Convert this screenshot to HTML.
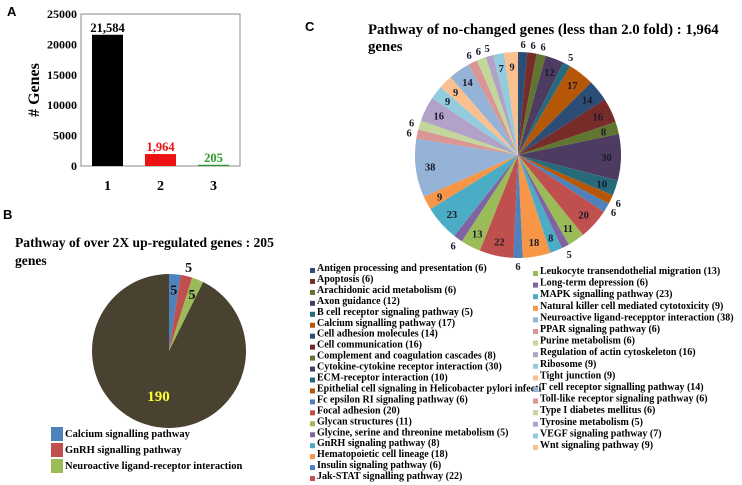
<!DOCTYPE html>
<html><head><meta charset="utf-8"><style>
html,body{margin:0;padding:0;background:#fff;width:742px;height:485px;overflow:hidden}
svg{display:block;font-family:"Liberation Serif",serif;font-weight:bold}
.pl{font-family:"Liberation Sans",sans-serif;font-weight:bold}
</style></head><body>
<svg id="fig" width="742" height="485" viewBox="0 0 742 485">
<text class="pl" x="7" y="16" font-size="13">A</text>
<text class="pl" x="3" y="219" font-size="13">B</text>
<text class="pl" x="305" y="31" font-size="13">C</text>
<g id="barA"></g>
<g id="pieB"></g>
<g id="pieC"></g>
<text x="15" y="247" font-size="13.6">Pathway of  over 2X up-regulated genes : 205</text>
<text x="15" y="265" font-size="13.6">genes</text>
<text x="368" y="34" font-size="14.8">Pathway of no-changed genes (less than 2.0 fold) : 1,964</text>
<text x="368" y="51" font-size="14.8">genes</text>
</svg>
<script>
const NS="http://www.w3.org/2000/svg";
function mk(p,t,a){const e=document.createElementNS(NS,t);for(const k in a)e.setAttribute(k,a[k]);p.appendChild(e);return e;}

// ---- Panel A data
const barCats=["1","2","3"];
const barVals=[21584,1964,205];
const barLabels=["21,584","1,964","205"];
const barColors=["#000000","#ee1111","#2a9a2a"];
const yTicks=[0,5000,10000,15000,20000,25000];

const A=document.getElementById('barA');
const ax={x0:81,x1:240,y0:166,y1:14,max:25000};
const ys=v=>ax.y0-(v/ax.max)*(ax.y0-ax.y1);
const bw=(ax.x1-ax.x0)/3;
let fr=mk(A,'rect',{x:ax.x0,y:ax.y1,width:ax.x1-ax.x0,height:ax.y0-ax.y1,fill:'none',stroke:'#888','stroke-width':1});


yTicks.forEach(v=>{
  const t=mk(A,'text',{x:ax.x0-4,y:ys(v)+4,'text-anchor':'end','font-size':12});
  t.textContent=v;
  
  
});
barCats.forEach((c,i)=>{
  const cx=ax.x0+bw*(i+0.5);
  const r=mk(A,'rect',{x:cx-15.5,y:ys(barVals[i]),width:31,height:ax.y0-ys(barVals[i]),fill:barColors[i]});
  
  
  const l=mk(A,'text',{x:cx,y:ys(barVals[i])-3,'text-anchor':'middle','font-size':12.5,fill:barColors[i]});
  l.textContent=barLabels[i];
  
  
  const x=mk(A,'text',{x:cx,y:190,'text-anchor':'middle','font-size':14});
  x.textContent=c;
  
  
});
const yt=mk(A,'text',{x:0,y:0,transform:'translate(39,90) rotate(-90)','text-anchor':'middle','font-size':16});
yt.textContent='# Genes';



// ---- Panel B data
const pieBNames=["Calcium signalling pathway","GnRH signalling pathway","Neuroactive ligand-receptor interaction",""];
const pieBVals=[5,5,5,190];
const pieBColors=["#4f81bd","#c0504d","#9bbb59","#4a4230"];

function arc(g,cx,cy,r,a0,a1,fill){
  const p=(a)=>[cx+r*Math.sin(a),cy-r*Math.cos(a)];
  const [x0,y0]=p(a0),[x1,y1]=p(a1);
  return mk(g,'path',{d:`M${cx},${cy}L${x0},${y0}A${r},${r} 0 ${a1-a0>Math.PI?1:0} 1 ${x1},${y1}Z`,fill:fill});
}
const B=document.getElementById('pieB');
(function(){
  const cx=169,cy=351,r=77,tot=pieBVals.reduce((a,b)=>a+b,0);let a=0;
  pieBVals.forEach((v,i)=>{
    const a1=a+v/tot*2*Math.PI;
    const s=arc(B,cx,cy,r,a,a1,pieBColors[i]);
    
    
    const m=(a+a1)/2;
    let rr=i==3?0.6:(i==1?1.12:0.8);
    const t=mk(B,'text',{x:cx+rr*r*Math.sin(m),y:cy-rr*r*Math.cos(m)+5,'text-anchor':'middle','font-size':i==3?15:14,fill:i==3?'#ffff33':'#111'});
    t.textContent=v;
    
    
    a=a1;
  });
  for(let i=0;i<3;i++){
    const y=437+i*16;
    const sw=mk(B,'rect',{x:51,y:y-10,width:12,height:14,fill:pieBColors[i]});
    
    
    const t=mk(B,'text',{x:65,y:y,'font-size':10.5});
    t.textContent=pieBNames[i];
    
    
  }
})();

// ---- Panel C data
const pieCNames=["Antigen processing and presentation (6)","Apoptosis (6)","Arachidonic acid metabolism (6)","Axon guidance (12)","B cell receptor signaling pathway (5)","Calcium signalling pathway (17)","Cell adhesion molecules (14)","Cell communication (16)","Complement and coagulation cascades (8)","Cytokine-cytokine receptor interaction (30)","ECM-receptor interaction (10)","Epithelial cell signaling in Helicobacter pylori infecti","Fc epsilon RI signaling pathway (6)","Focal adhesion (20)","Glycan structures (11)","Glycine, serine and threonine metabolism (5)","GnRH signaling pathway (8)","Hematopoietic cell lineage (18)","Insulin signaling pathway (6)","Jak-STAT signalling pathway (22)","Leukocyte transendothelial migration (13)","Long-term depression (6)","MAPK signalling pathway (23)","Natural killer cell mediated cytotoxicity (9)","Neuroactive ligand-recepptor interaction (38)","PPAR signaling pathway (6)","Purine metabolism (6)","Regulation of actin cytoskeleton (16)","Ribosome (9)","Tight junction (9)","T cell receptor signalling pathway (14)","Toll-like receptor signaling pathway (6)","Type I diabetes mellitus (6)","Tyrosine metabolism (5)","VEGF signaling pathway (7)","Wnt signaling pathway  (9)"];
const pieCVals=[6,6,6,12,5,17,14,16,8,30,10,6,6,20,11,5,8,18,6,22,13,6,23,9,38,6,6,16,9,9,14,6,6,5,7,9];
const shades=[["#2c4d75","#772c2a","#5f7530","#4d3b62","#276a7c","#b65708"],["#4f81bd","#c0504d","#9bbb59","#8064a2","#4bacc6","#f79646"],["#95b3d7","#d99694","#c3d69b","#b3a2c7","#93cddd","#fac090"]];
const C=document.getElementById('pieC');
(function(){
  const cx=518,cy=155,r=103,tot=pieCVals.reduce((a,b)=>a+b,0);let a=0;
  pieCVals.forEach((v,i)=>{
    const a1=a+v/tot*2*Math.PI;
    const fill=shades[Math.floor(i/12)][i%6];
    const s=arc(C,cx,cy,r,a,a1,fill);
    
    
    const m=(a+a1)/2, rr=v<=6?1.08:0.86;
    const t=mk(C,'text',{x:cx+rr*r*Math.sin(m),y:cy-rr*r*Math.cos(m)+4,'text-anchor':'middle','font-size':10.5,fill:'#1a1a2a'});
    t.textContent=v;
    
    
    a=a1;
  });
  pieCNames.forEach((n,i)=>{
    const fill=shades[Math.floor(i/12)][i%6];
    const left=i<20, j=left?i:i-20;
    const x=left?310:533, y=left?270+j*10.95:273+j*11.6;
    const sw=mk(C,'rect',{x:x,y:y-2,width:5,height:5,fill:fill});
    
    
    const t=mk(C,'text',{x:x+7,y:y+1,'font-size':10});
    t.textContent=n;
    
    
  });
})();
</script>
</body></html>
